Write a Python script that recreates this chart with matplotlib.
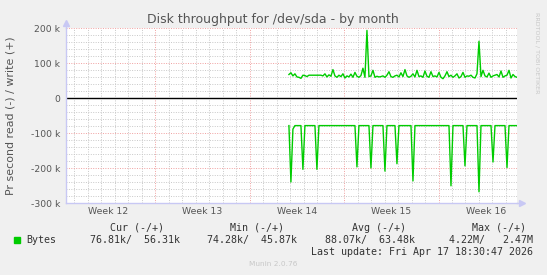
"""
Munin style "Disk throughput for /dev/sda - by month" graph.
"""

import numpy as np
import matplotlib as mpl
from matplotlib import pyplot as plt
from matplotlib.patches import Rectangle

# Data (k bytes per second), one sample every ~2 px, week 14 -> end
write_k = [68, 73, 64, 70, 61, 60, 57, 66, 65, 62,
           66, 66, 66, 66, 66, 66, 66, 64, 70, 61,
           67, 63, 82, 64, 60, 66, 62, 70, 58, 64,
           61, 69, 60, 74, 63, 60, 65, 86, 60, 194,
           62, 64, 80, 60, 63, 61, 62, 64, 60, 66,
           76, 62, 60, 64, 66, 61, 73, 62, 82, 64,
           60, 63, 70, 61, 80, 62, 64, 60, 78, 63,
           60, 76, 62, 64, 61, 74, 60, 56, 64, 76,
           62, 66, 60, 64, 70, 58, 62, 74, 60, 64,
           63, 66, 60, 58, 70, 163, 62, 80, 64, 61,
           72, 60, 64, 66, 68, 61, 78, 60, 64, 66,
           80, 58, 68, 62, 60]

read_k = [-78, -239, -88, -78, -78, -78, -78, -203, -78, -78,
          -78, -78, -78, -78, -203, -78, -78, -78, -78, -78,
          -78, -78, -78, -78, -78, -78, -78, -78, -78, -78,
          -78, -78, -78, -78, -196, -78, -78, -78, -78, -78,
          -78, -199, -78, -78, -78, -78, -78, -78, -208, -78,
          -78, -78, -78, -78, -187, -78, -78, -78, -78, -78,
          -78, -78, -236, -78, -78, -78, -78, -78, -78, -78,
          -78, -78, -78, -78, -78, -78, -78, -78, -78, -78,
          -78, -250, -78, -78, -78, -78, -78, -78, -193, -78,
          -78, -78, -78, -78, -78, -267, -78, -78, -78, -78,
          -78, -78, -182, -78, -78, -78, -78, -78, -78, -198,
          -78, -78, -78, -78, -78]

week_labels = ["Week 12", "Week 13", "Week 14", "Week 15", "Week 16"]
y_ticks = [200, 100, 0, -100, -200, -300]
y_labels = ["200 k", "100 k", "0", "-100 k", "-200 k", "-300 k"]

legend_heads = ["Cur (-/+)", "Min (-/+)", "Avg (-/+)", "Max (-/+)"]
legend_vals = ["76.81k/  56.31k", "74.28k/  45.87k", "88.07k/  63.48k", "4.22M/   2.47M"]

# time axis in days from the left edge of the graph
span_days = 33.46
first_day = 16.55
first_week = 6.64   # first week boundary
days = np.linspace(first_day, span_days, len(write_k))

W, H = 547, 275
GREEN = "#00CC00"
AXIS = "#C8C8F4"

def px(x, y):
	return x / W, 1 - y / H

def main():
	fig = plt.figure(figsize=(W / 100, H / 100), dpi=100, facecolor="#F0F0F0")
	l, t, r, b = 65.7, 28.3, 517, 203.3
	ax = fig.add_axes([l / W, 1 - b / H, (r - l) / W, (b - t) / H])
	ax.set_facecolor("white")
	ax.set_xlim(0, span_days)
	ax.set_ylim(-300, 200)

	# grid
	for d in np.arange(first_week - 6, span_days, 1.0):
		major = abs((d - first_week) % 7) < 1e-6
		ax.axvline(d, color="#F0A0A0" if major else "#C8C8C8", lw=0.7,
			ls=(0, (1, 1.5)), zorder=0)
	for v in range(-300, 201, 20):
		ax.axhline(v, color="#F0A0A0" if v % 100 == 0 else "#C8C8C8",
			lw=0.7, ls=(0, (1, 1.5)), zorder=0)
	ax.axhline(0, color="black", lw=1.0, zorder=2)

	ax.plot(days, write_k, color=GREEN, lw=1.0, zorder=3)
	ax.plot(days, read_k, color=GREEN, lw=1.0, zorder=3)

	# ticks
	ax.set_yticks(y_ticks, y_labels)
	ax.set_xticks(first_week - 3.5 + 7 * np.arange(len(week_labels)), week_labels)
	ax.tick_params(length=0, labelsize=6.7, labelcolor="#555555", pad=4)
	ax.tick_params(axis="x", pad=3)

	for s in ["top", "right"]:
		ax.spines[s].set_visible(False)
	for s in ["left", "bottom"]:
		ax.spines[s].set_color(AXIS)
		ax.spines[s].set_linewidth(1.0)
	ax.plot([1.0, 1.012], [0, 0], color=AXIS, lw=1.0, transform=ax.transAxes, clip_on=False)
	ax.plot([1.012], [0], marker=">", ms=4, color=AXIS, transform=ax.transAxes, clip_on=False)
	ax.plot([0, 0], [1.0, 1.03], color=AXIS, lw=1.0, transform=ax.transAxes, clip_on=False)
	ax.plot([0], [1.03], marker="^", ms=4, color=AXIS, transform=ax.transAxes, clip_on=False)

	# texts
	fig.text(*px(273, 19), "Disk throughput for /dev/sda - by month", ha="center",
		va="center", fontsize=9, color="#555555")
	fig.text(*px(10.5, 115.5), "Pr second read (-) / write (+)", rotation=90,
		ha="center", va="center", fontsize=7.9, color="#555555")
	fig.text(*px(537, 53), "RRDTOOL / TOBI OETIKER", rotation=270, ha="center",
		va="center", fontsize=4.6, color="#C8C8C8")

	mono = dict(family="DejaVu Sans Mono", fontsize=7.2, color="#333333", va="center")
	for head, cx in zip(legend_heads, [137.5, 257.5, 378.5, 499.5]):
		fig.text(*px(cx, 228), head, ha="center", **mono)
	fig.add_artist(Rectangle(px(14, 243), 6 / W, 6 / H, color=GREEN,
		transform=fig.transFigure))
	fig.text(*px(26, 240), "Bytes", ha="left", **mono)
	for val, rx in zip(legend_vals, [180, 297, 415, 533]):
		fig.text(*px(rx, 240), val, ha="right", **mono)
	fig.text(*px(533, 252), "Last update: Fri Apr 17 18:30:47 2026", ha="right", **mono)
	fig.text(*px(273, 264), "Munin 2.0.76", ha="center", va="center",
		fontsize=5.3, color="#C8C8C8")

	fig.savefig("out.png", dpi=100, facecolor=fig.get_facecolor())

main()
